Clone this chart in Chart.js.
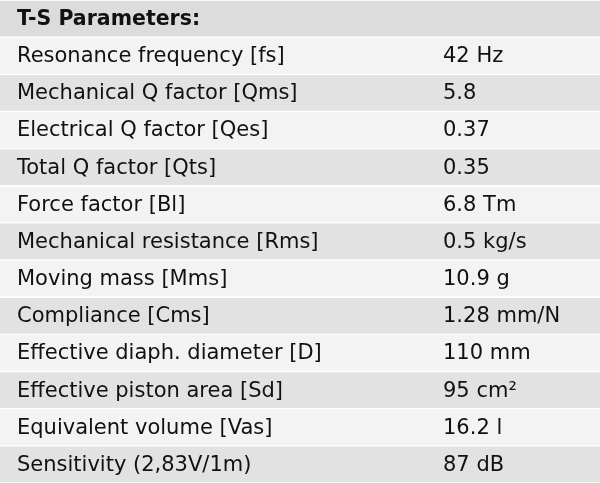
<!DOCTYPE html>
<html><head><meta charset="utf-8">
<script src="https://cdn.jsdelivr.net/npm/chart.js@4"></script>
<style>html,body{margin:0;padding:0;background:#fff}#w{width:600px;height:483px}</style>
</head><body><div id="w"><canvas id="c"></canvas></div>
<script>
const header = "T-S Parameters:";
const parameters = ["Resonance frequency [fs]","Mechanical Q factor [Qms]","Electrical Q factor [Qes]","Total Q factor [Qts]","Force factor [Bl]","Mechanical resistance [Rms]","Moving mass [Mms]","Compliance [Cms]","Effective diaph. diameter [D]","Effective piston area [Sd]","Equivalent volume [Vas]","Sensitivity (2,83V/1m)"];
const values = ["42 Hz","5.8","0.37","0.35","6.8 Tm","0.5 kg/s","10.9 g","1.28 mm/N","110 mm","95 cm²","16.2 l","87 dB"];
const rows = [header, ...parameters];
const fills = rows.map(()=> 1);
const colors = rows.map((r,i)=> i===0 ? '#dcdcdc' : (i%2===1 ? '#f3f3f3' : '#e2e2e2'));
const textPlugin = {
  id:'txt',
  afterDatasetsDraw(chart){
    const ctx=chart.ctx, y=chart.scales.y;
    ctx.save(); ctx.fillStyle='#111'; ctx.textBaseline='middle';
    rows.forEach((r,i)=>{
      const py=y.getPixelForValue(i);
      if(i===0){ ctx.font='bold 20.5px "DejaVu Sans"'; ctx.fillText(r,17,py+1); }
      else {
        ctx.font='21px "DejaVu Sans"';
        ctx.fillText(r,17,py+1);
        ctx.fillText(values[i-1],443,py+1);
      }
    });
    ctx.restore();
  }
};
new Chart(document.getElementById('c'),{
  type:'bar',
  data:{labels:rows,datasets:[{data:fills,backgroundColor:colors,borderColor:'#ffffff',borderWidth:{top:1,bottom:1},borderSkipped:false,categoryPercentage:1,barPercentage:1}]},
  options:{indexAxis:'y',responsive:true,maintainAspectRatio:false,animation:false,
    layout:{padding:0},
    plugins:{legend:{display:false},tooltip:{enabled:false}},
    scales:{x:{display:false,min:0,max:1},y:{display:false}}},
  plugins:[textPlugin]
});
</script></body></html>
